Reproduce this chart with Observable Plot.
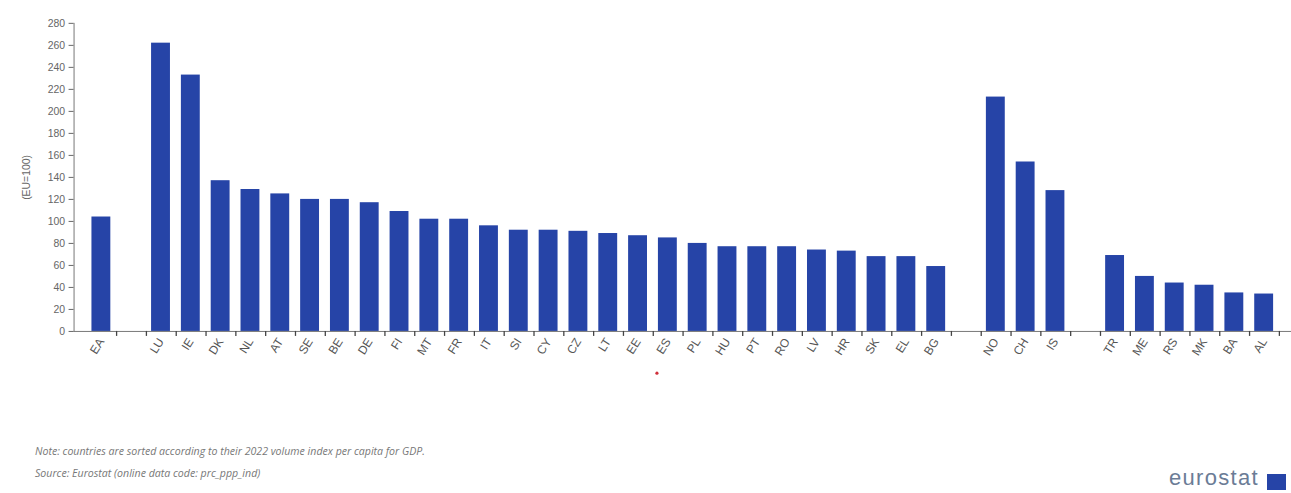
<!DOCTYPE html>
<html>
<head>
<meta charset="utf-8">
<script src="https://cdn.jsdelivr.net/npm/d3@7"></script>
<script src="https://cdn.jsdelivr.net/npm/@observablehq/plot@0.6"></script>
<style>
  html, body { margin: 0; padding: 0; background: #fff; overflow: hidden; }
  body { position: relative; width: 1291px; height: 493px; font-family: "Liberation Sans", Arial, sans-serif; }
  #chart { position: absolute; left: 0; top: 0; }
  .foot { position: absolute; left: 35px; font-family: "Open Sans", sans-serif; font-style: italic; font-size: 10.6px; color: #777; white-space: nowrap; }
  #logo { position: absolute; left: 1169px; top: 466px; font-family: "Liberation Sans", Arial, sans-serif; font-size: 22px; line-height: 24px; color: #6b7c96; letter-spacing: 1.3px; }
  #flag { position: absolute; left: 1267px; top: 474px; width: 19px; height: 16px; background: #2644A7; }
</style>
</head>
<body>
<div id="chart"></div>
<div class="foot" id="note" style="top:444px">Note: countries are sorted according to their 2022 volume index per capita for GDP.</div>
<div class="foot" id="source" style="top:466px">Source: Eurostat (online data code: prc_ppp_ind)</div>
<div id="logo">eurostat</div>
<div id="flag"></div>
<script>
// ---- data ----
const euroArea = ["EA"];
const euroAreaValues = [104];
const euCountries = ["LU","IE","DK","NL","AT","SE","BE","DE","FI","MT","FR","IT","SI","CY","CZ","LT","EE","ES","PL","HU","PT","RO","LV","HR","SK","EL","BG"];
const euValues = [262,233,137,129,125,120,120,117,109,102,102,96,92,92,91,89,87,85,80,77,77,77,74,73,68,68,59];
const eftaCountries = ["NO","CH","IS"];
const eftaValues = [213,154,128];
const candidateCountries = ["TR","ME","RS","MK","BA","AL"];
const candidateValues = [69,50,44,42,35,34];
const yTicks = [0,20,40,60,80,100,120,140,160,180,200,220,240,260,280];
const highlighted = ["ES"];

// ---- build table ----
const groups = [
  [euroArea, euroAreaValues],
  [euCountries, euValues],
  [eftaCountries, eftaValues],
  [candidateCountries, candidateValues]
];
const domain = [];
const rows = [];
groups.forEach(([cats, vals], gi) => {
  if (gi > 0) domain.push(" ".repeat(gi)); // empty spacer slot
  cats.forEach((c, i) => { domain.push(c); rows.push({country: c, value: vals[i]}); });
});

const W = 1299, ML = 74, MR = 0, H = 390, MT = 23, MB = 57;
const step = (W - ML - MR) / domain.length;
const blue = "#2644A7";

const chart = Plot.plot({
  width: W,
  height: H,
  marginLeft: ML,
  marginRight: MR,
  marginTop: MT,
  marginBottom: MB,
  style: {fontFamily: "'Liberation Sans', Arial, sans-serif", background: "#fff"},
  x: {domain, paddingInner: 0.36, paddingOuter: 0.18, axis: null},
  y: {domain: [0, 280], axis: null},
  marks: [
    Plot.barY(rows, {x: "country", y: "value", fill: blue}),
    Plot.frame({anchor: "left", stroke: "#777", strokeWidth: 1}),
    Plot.ruleY([0], {stroke: "#777"}),
    Plot.axisY({
      ticks: yTicks, tickSize: 5, tickPadding: 4, fontSize: 10.5, color: "#666",
      label: "(EU=100)", labelAnchor: "center", labelOffset: 52, labelArrow: "none"
    }),
    // tick marks at band boundaries
    Plot.axisX({ticks: domain, tickSize: 5, tickFormat: () => "", dx: step / 2, stroke: "#444", strokeWidth: 1.3, label: null}),
    // rotated labels
    Plot.axisX({
      ticks: domain, tickSize: 0, tickPadding: 8, tickRotate: -58, fontSize: 12, color: "#555",
      tickFormat: d => d.trim() === "" ? "" : d, label: null
    }),
    Plot.dot(highlighted, {x: d => d, y: 0, r: 1.6, fill: "#d0303a", stroke: null, dx: -11, dy: 42})
  ]
});
document.getElementById("chart").appendChild(chart);
</script>
</body>
</html>
